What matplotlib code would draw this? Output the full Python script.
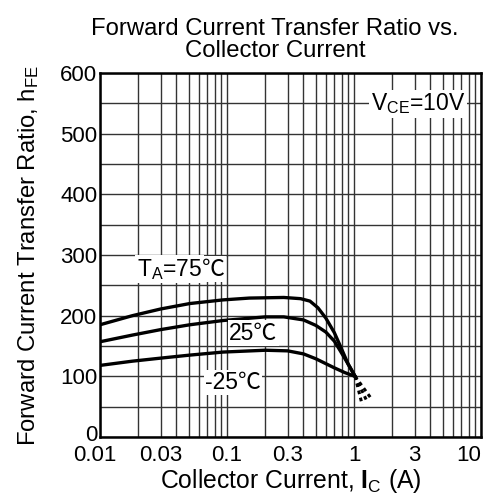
import numpy as np
import matplotlib
matplotlib.use("Agg")
import matplotlib.pyplot as plt
from matplotlib.ticker import LogLocator, FixedLocator, NullFormatter, MultipleLocator
from matplotlib.transforms import ScaledTranslation

plt.rcParams['font.family'] = ['Liberation Sans', 'Noto Sans CJK JP', 'DejaVu Sans']
plt.rcParams['mathtext.fontset'] = 'custom'
plt.rcParams['mathtext.rm'] = 'Liberation Sans'
plt.rcParams['mathtext.it'] = 'Liberation Sans'
plt.rcParams['mathtext.bf'] = 'Liberation Sans:bold'

# Data
ic_75 = [0.01, 0.018, 0.03, 0.051, 0.093, 0.15, 0.28, 0.38, 0.45, 0.52, 0.6, 0.7, 0.78, 0.9, 1.02]
hfe_75 = [185, 200, 211, 220, 226, 229, 230, 228, 224, 213, 196, 172, 150, 120, 100]
ic_25 = [0.01, 0.018, 0.03, 0.051, 0.093, 0.2, 0.28, 0.4, 0.5, 0.6, 0.7, 0.78, 0.93, 1.02]
hfe_25 = [157, 168, 177, 185, 192, 198, 198, 193, 184, 173, 158, 142, 115, 100]
ic_m25 = [0.01, 0.018, 0.03, 0.051, 0.093, 0.2, 0.3, 0.4, 0.5, 0.7, 0.85, 1.02]
hfe_m25 = [118, 125, 130, 135, 140, 143, 142, 137, 129, 114, 106, 100]
# dashed extensions beyond 1 A
ext_ic = [[1.02, 1.16], [1.02, 1.27], [1.02, 1.36]]
ext_hfe = [[100, 53], [100, 58], [100, 64]]

xticks = [0.01, 0.03, 0.1, 0.3, 1, 3, 10]
xticklabels = ["0.01", "0.03", "0.1", "0.3", "1", "3", "10"]
yticks = [0, 100, 200, 300, 400, 500, 600]

fig = plt.figure(figsize=(4.93, 4.94), dpi=100)
ax = fig.add_axes([100/493, 1-437/494, 381/493, 364/494])
ax.set_xscale('log')
ax.set_xlim(0.01, 10)
ax.set_ylim(0, 600)

ax.xaxis.set_major_locator(FixedLocator(xticks))
ax.set_xticklabels(xticklabels)
ax.xaxis.set_minor_locator(LogLocator(base=10, subs=np.arange(1, 10), numticks=20))
ax.xaxis.set_minor_formatter(NullFormatter())
ax.set_yticks(yticks)
ax.yaxis.set_minor_locator(MultipleLocator(50))

ax.grid(True, which='both', axis='both', color='#333333', linewidth=1.0)
ax.set_axisbelow(True)
ax.tick_params(which='both', length=0, labelsize=16)
ax.tick_params(axis='x', pad=5.5)
ax.tick_params(axis='y', pad=2)
for s in ax.spines.values():
    s.set_linewidth(1.8)
    s.set_color('black')
# small label nudges like the reference
lab0 = ax.get_yticklabels()[0]
lab0.set_transform(lab0.get_transform() + ScaledTranslation(0, 3/72, fig.dpi_scale_trans))
xl = ax.get_xticklabels()
xl[0].set_transform(xl[0].get_transform() + ScaledTranslation(-4/72, 0, fig.dpi_scale_trans))
xl[-1].set_horizontalalignment('right')

lw = 2.4
ax.plot(ic_75, hfe_75, color='black', lw=lw, solid_capstyle='round')
ax.plot(ic_25, hfe_25, color='black', lw=lw, solid_capstyle='round')
ax.plot(ic_m25, hfe_m25, color='black', lw=lw, solid_capstyle='round')
for xs, ys in zip(ext_ic, ext_hfe):
    ax.plot(xs, ys, color='black', lw=2.2, linestyle=(0, (1.2, 1.2)))

bbox = dict(facecolor='white', edgecolor='none', pad=1.0)
t1 = ax.text(0.0195, 266, "T$_\\mathregular{A}$=75", fontsize=16.5, va='baseline', ha='left', bbox=bbox)
ax.annotate("℃", xy=(1, 266), xycoords=(t1, 'data'), fontsize=16.5, va='baseline', ha='left', bbox=bbox)
ax.text(0.104, 171, "25℃", fontsize=16.5, va='center', ha='left', bbox=bbox)
ax.text(0.067, 90, "-25℃", fontsize=16.5, va='center', ha='left', bbox=bbox)
ax.text(3.19, 549, "V$_\\mathregular{CE}$=10V", fontsize=16.5, va='center', ha='center', bbox=bbox)

ax.set_xlabel("Collector Current, $\\mathbf{I}_\\mathregular{C}$ (A)", fontsize=17.8, labelpad=1)
ax.set_ylabel("Forward Current Transfer Ratio, h$_\\mathregular{FE}$", fontsize=17.2, labelpad=14)
fig.text(275/493, 1-40/494, "Forward Current Transfer Ratio vs.\nCollector Current", ha='center', va='center',
         fontsize=17.2, linespacing=0.98)

fig.savefig("out.png", dpi=100, facecolor='white')
